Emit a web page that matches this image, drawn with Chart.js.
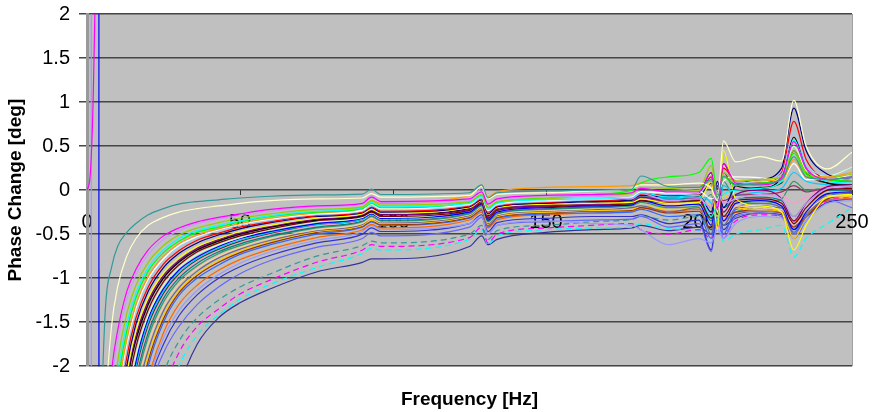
<!DOCTYPE html>
<html>
<head>
<meta charset="utf-8">
<title>Phase Change vs Frequency</title>
<script src="https://cdn.jsdelivr.net/npm/chart.js@4.4.1/dist/chart.umd.min.js"></script>
<style>
  html, body { margin: 0; padding: 0; background: #fff; }
  #chart { display: block; }
</style>
</head>
<body>
<canvas id="chart" width="875" height="412"></canvas>
<script>
// frequencies [Hz] shared by all main series
const freq = [4, 6, 8, 10, 13, 16, 20, 25, 30, 36, 43, 50, 60, 75, 90, 93, 96, 125, 129, 131, 134, 150, 165, 178, 181, 190, 200, 204, 206, 208, 212, 220, 227, 231, 235, 242, 250];

// phase change [deg], one array per measurement
const teal = [-3.2, -1.35, -0.88, -0.64, -0.48, -0.38, -0.28, -0.21, -0.16, -0.13, -0.11, -0.09, -0.07, -0.055, -0.045, 0.01, -0.05, -0.03, 0.06, -0.09, -0.03, -0.01, 0.0, 0.01, 0.16, 0.04, 0.03, 0.12, -0.08, 0.16, 0.06, 0.07, 0.12, 0.38, 0.15, 0.12, 0.15];
const cream = [-4.5, -2.5, -1.55, -1.1, -0.75, -0.55, -0.4, -0.31, -0.25, -0.21, -0.18, -0.15, -0.12, -0.1, -0.09, -0.04, -0.08, -0.06, 0.04, -0.1, -0.05, -0.03, -0.01, 0.02, 0.06, 0.06, 0.08, 0.02, -0.12, 0.56, 0.32, 0.38, 0.33, 1.02, 0.5, 0.24, 0.43];
const magenta = [-6, -3.2, -2.08, -1.6, -1.15, -0.9, -0.68, -0.52, -0.43, -0.36, -0.31, -0.27, -0.22, -0.18, -0.15, -0.08, -0.13, -0.1, -0.02, -0.16, -0.1, -0.06, -0.05, -0.03, 0.02, -0.02, -0.02, 0.2, -0.22, 0.3, 0.08, 0.06, 0.14, 0.55, 0.25, 0.12, 0.15];
const lavender = [-6.5, -3.5, -2.25, -1.72, -1.24, -0.96, -0.73, -0.56, -0.46, -0.38, -0.33, -0.29, -0.24, -0.19, -0.16, -0.06, -0.14, -0.12, 0.02, -0.15, -0.11, -0.08, -0.07, -0.1, -0.04, -0.12, -0.1, -0.2, 0.0, -0.15, -0.1, -0.05, -0.1, -0.3, -0.15, 0.02, 0.05];
const yellowGreen = [-7.5, -4, -2.6, -1.95, -1.4, -1.08, -0.82, -0.63, -0.51, -0.43, -0.37, -0.32, -0.27, -0.22, -0.19, -0.12, -0.17, -0.13, -0.05, -0.2, -0.13, -0.1, -0.06, -0.04, 0.03, 0.02, 0.0, 0.28, -0.1, 0.2, 0.1, 0.12, 0.15, 0.45, 0.2, 0.14, 0.18];
const cyan = [-8.2, -4.4, -2.85, -2.1, -1.52, -1.17, -0.88, -0.68, -0.55, -0.46, -0.4, -0.35, -0.29, -0.24, -0.2, -0.14, -0.19, -0.15, -0.07, -0.22, -0.15, -0.11, -0.1, -0.09, -0.03, -0.08, -0.06, -0.3, -0.15, -0.05, 0.0, 0.02, 0.1, 0.57, 0.25, 0.1, 0.08];
const green = [-9, -4.7, -3.0, -2.22, -1.6, -1.22, -0.92, -0.71, -0.58, -0.48, -0.42, -0.36, -0.3, -0.25, -0.21, -0.15, -0.2, -0.14, -0.06, -0.2, -0.14, -0.09, -0.05, 0.0, 0.08, 0.15, 0.2, 0.36, -0.05, 0.15, 0.05, 0.08, 0.12, 0.42, 0.18, 0.12, 0.1];
const orange = [-9.5, -5, -3.2, -2.35, -1.7, -1.3, -0.98, -0.75, -0.61, -0.51, -0.44, -0.38, -0.32, -0.26, -0.2, -0.12, -0.15, -0.06, 0.04, -0.08, -0.02, 0.03, 0.04, 0.05, 0.08, 0.06, 0.05, 0.1, -0.05, 0.15, 0.1, 0.12, 0.1, 0.35, 0.15, 0.15, 0.2];
const white = [-10, -5.2, -3.3, -2.42, -1.75, -1.34, -1.01, -0.78, -0.63, -0.53, -0.45, -0.39, -0.33, -0.27, -0.23, -0.16, -0.21, -0.16, -0.07, -0.23, -0.16, -0.12, -0.1, -0.08, -0.02, -0.03, -0.01, -0.1, -0.05, 0.1, 0.15, 0.14, 0.1, 0.3, 0.12, 0.12, 0.18];
const paleBlue = [-10.3, -5.4, -3.45, -2.5, -1.8, -1.38, -1.04, -0.8, -0.65, -0.54, -0.46, -0.4, -0.34, -0.28, -0.24, -0.18, -0.22, -0.17, -0.09, -0.24, -0.17, -0.13, -0.11, -0.08, -0.02, -0.05, -0.04, 0.12, -0.12, 0.2, 0.08, 0.1, 0.18, 0.66, 0.3, 0.16, 0.12];
const red = [-11, -5.8, -3.65, -2.65, -1.9, -1.45, -1.1, -0.84, -0.69, -0.57, -0.49, -0.42, -0.36, -0.29, -0.25, -0.19, -0.24, -0.18, -0.1, -0.25, -0.18, -0.14, -0.12, -0.1, -0.05, -0.06, -0.05, 0.15, -0.2, 0.25, 0.1, 0.08, 0.2, 0.78, 0.35, 0.12, 0.1];
const navy = [-12, -6.2, -3.9, -2.8, -2.0, -1.52, -1.15, -0.88, -0.72, -0.6, -0.51, -0.44, -0.37, -0.3, -0.26, -0.2, -0.25, -0.19, -0.11, -0.27, -0.19, -0.15, -0.13, -0.11, -0.06, -0.08, -0.06, -0.25, 0.1, -0.2, 0.05, 0.12, 0.25, 0.93, 0.45, 0.18, 0.12];
const yellow = [-13.5, -6.8, -4.2, -3.0, -2.1, -1.6, -1.22, -0.94, -0.77, -0.64, -0.55, -0.47, -0.4, -0.32, -0.27, -0.22, -0.26, -0.2, -0.12, -0.28, -0.2, -0.16, -0.15, -0.14, -0.1, -0.15, -0.14, 0.1, -0.45, 0.45, -0.1, -0.18, -0.25, -0.68, -0.4, -0.08, -0.05];
const purple = [-14, -7.2, -4.4, -3.1, -2.15, -1.65, -1.26, -0.97, -0.8, -0.66, -0.56, -0.49, -0.41, -0.33, -0.28, -0.23, -0.28, -0.22, -0.13, -0.3, -0.22, -0.18, -0.16, -0.14, -0.08, -0.12, -0.1, -0.3, 0.05, -0.25, -0.05, 0.0, -0.1, -0.35, -0.15, 0.04, 0.06];
const black = [-15, -7.5, -4.6, -3.2, -2.2, -1.7, -1.3, -1.0, -0.82, -0.68, -0.58, -0.5, -0.42, -0.34, -0.29, -0.24, -0.28, -0.21, -0.12, -0.29, -0.2, -0.15, -0.12, -0.09, -0.04, -0.06, -0.04, 0.2, -0.15, 0.3, 0.05, 0.02, 0.15, 0.6, 0.25, 0.08, 0.05];
const plum = [-14.6, -7.4, -4.5, -3.15, -2.18, -1.68, -1.28, -0.99, -0.81, -0.67, -0.57, -0.5, -0.42, -0.34, -0.29, -0.23, -0.28, -0.22, -0.12, -0.29, -0.21, -0.17, -0.15, -0.13, -0.1, -0.12, -0.1, -0.2, -0.08, -0.12, -0.06, -0.05, -0.02, 0.05, -0.02, 0.02, 0.0];
const maroon = [-16, -8, -4.9, -3.4, -2.33, -1.78, -1.36, -1.04, -0.85, -0.7, -0.6, -0.52, -0.44, -0.35, -0.3, -0.25, -0.3, -0.23, -0.15, -0.32, -0.23, -0.19, -0.17, -0.15, -0.12, -0.14, -0.12, -0.32, 0.02, -0.3, -0.12, -0.1, -0.15, -0.38, -0.2, 0.0, 0.02];
const lightGreen = [-17, -8.5, -5.2, -3.6, -2.45, -1.87, -1.42, -1.08, -0.88, -0.73, -0.62, -0.54, -0.45, -0.36, -0.31, -0.26, -0.31, -0.22, -0.13, -0.3, -0.21, -0.16, -0.13, -0.1, -0.05, -0.04, -0.02, 0.18, -0.25, 0.28, 0.12, 0.1, 0.12, 0.5, 0.22, 0.16, 0.26];
const blue = [-18, -9, -5.4, -3.8, -2.55, -1.95, -1.46, -1.12, -0.91, -0.76, -0.64, -0.55, -0.47, -0.38, -0.32, -0.27, -0.32, -0.25, -0.16, -0.34, -0.25, -0.2, -0.18, -0.17, -0.12, -0.18, -0.16, -0.4, 0.0, -0.35, -0.15, -0.12, -0.18, -0.45, -0.25, -0.04, -0.02];
const sky = [-19, -9.3, -5.6, -3.9, -2.6, -2.0, -1.5, -1.15, -0.94, -0.78, -0.66, -0.57, -0.48, -0.39, -0.33, -0.27, -0.32, -0.24, -0.15, -0.33, -0.23, -0.18, -0.15, -0.13, -0.08, -0.1, -0.08, -0.15, -0.35, 0.05, -0.05, -0.02, 0.02, 0.2, 0.1, 0.06, 0.02];
const olive = [-19.5, -9.5, -5.75, -4.0, -2.66, -2.04, -1.53, -1.17, -0.95, -0.79, -0.67, -0.58, -0.49, -0.39, -0.33, -0.27, -0.31, -0.24, -0.14, -0.31, -0.22, -0.17, -0.14, -0.12, -0.08, -0.1, -0.07, 0.08, -0.28, 0.2, 0.0, 0.03, 0.08, 0.45, 0.2, 0.08, 0.06];
const rose = [-20, -9.7, -5.9, -4.1, -2.72, -2.08, -1.56, -1.19, -0.97, -0.81, -0.68, -0.59, -0.5, -0.4, -0.34, -0.28, -0.33, -0.25, -0.16, -0.33, -0.25, -0.2, -0.17, -0.14, -0.1, -0.09, -0.07, 0.05, -0.2, 0.18, 0.02, 0.0, -0.05, -0.15, -0.08, 0.05, 0.08];
const tealDark = [-21.5, -10.2, -6.2, -4.3, -2.85, -2.15, -1.62, -1.23, -1.0, -0.83, -0.7, -0.61, -0.52, -0.42, -0.35, -0.29, -0.34, -0.26, -0.17, -0.35, -0.26, -0.21, -0.19, -0.16, -0.12, -0.15, -0.12, -0.35, 0.05, -0.2, -0.1, -0.08, -0.12, -0.3, -0.15, 0.0, 0.0];
const seaGreen = [-22.5, -10.6, -6.4, -4.45, -2.95, -2.22, -1.67, -1.27, -1.03, -0.86, -0.72, -0.63, -0.53, -0.43, -0.36, -0.3, -0.35, -0.27, -0.18, -0.36, -0.27, -0.22, -0.2, -0.18, -0.14, -0.2, -0.18, -0.05, -0.4, 0.1, -0.12, -0.15, -0.1, 0.1, 0.0, 0.02, 0.0];
const tan = [-24, -11, -6.6, -4.6, -3.1, -2.3, -1.75, -1.32, -1.07, -0.89, -0.75, -0.65, -0.55, -0.45, -0.38, -0.32, -0.36, -0.28, -0.19, -0.37, -0.28, -0.23, -0.21, -0.18, -0.15, -0.17, -0.15, -0.2, -0.05, -0.22, -0.18, -0.2, -0.22, -0.4, -0.25, -0.08, -0.06];
const slate = [-25.5, -11.7, -7.0, -4.85, -3.25, -2.4, -1.82, -1.37, -1.11, -0.92, -0.77, -0.67, -0.57, -0.46, -0.39, -0.32, -0.37, -0.29, -0.2, -0.38, -0.29, -0.24, -0.22, -0.2, -0.18, -0.25, -0.2, -0.5, -0.1, -0.4, -0.2, -0.15, -0.2, -0.5, -0.3, -0.05, -0.03];
const gold = [-27, -12.4, -7.3, -5.1, -3.4, -2.5, -1.88, -1.42, -1.14, -0.95, -0.8, -0.69, -0.58, -0.47, -0.4, -0.34, -0.38, -0.3, -0.21, -0.39, -0.3, -0.25, -0.23, -0.22, -0.18, -0.22, -0.2, -0.15, -0.3, -0.05, -0.2, -0.22, -0.25, -0.55, -0.3, -0.06, -0.08];
const brown = [-28.5, -13, -7.6, -5.3, -3.55, -2.6, -1.94, -1.46, -1.17, -0.97, -0.82, -0.71, -0.6, -0.48, -0.41, -0.35, -0.39, -0.31, -0.22, -0.4, -0.31, -0.26, -0.24, -0.23, -0.2, -0.26, -0.24, -0.45, -0.1, -0.3, -0.25, -0.22, -0.26, -0.42, -0.3, -0.1, -0.06];
const royal = [-30, -14, -8, -5.6, -3.7, -2.7, -2.0, -1.5, -1.2, -1.0, -0.85, -0.73, -0.62, -0.5, -0.42, -0.36, -0.4, -0.32, -0.23, -0.42, -0.32, -0.27, -0.26, -0.25, -0.22, -0.3, -0.28, -0.55, -0.15, -0.5, -0.22, -0.18, -0.22, -0.48, -0.28, -0.08, -0.04];
const orangeRed = [-33, -15, -8.7, -6.1, -4.0, -2.9, -2.15, -1.62, -1.3, -1.08, -0.91, -0.79, -0.67, -0.54, -0.45, -0.39, -0.43, -0.34, -0.25, -0.43, -0.34, -0.28, -0.26, -0.24, -0.2, -0.24, -0.22, -0.3, -0.2, -0.35, -0.25, -0.24, -0.25, -0.35, -0.28, -0.11, -0.1];
const lilac = [-35, -16, -9.1, -6.35, -4.15, -3.0, -2.2, -1.68, -1.37, -1.14, -0.96, -0.83, -0.7, -0.57, -0.47, -0.4, -0.45, -0.38, -0.3, -0.5, -0.4, -0.35, -0.38, -0.4, -0.45, -0.62, -0.55, -0.6, -0.45, -0.55, -0.38, -0.3, -0.32, -0.5, -0.35, -0.15, -0.12];
const indigo = [-36, -16.5, -9.4, -6.6, -4.3, -3.1, -2.25, -1.75, -1.43, -1.19, -1.0, -0.87, -0.74, -0.6, -0.5, -0.43, -0.47, -0.38, -0.28, -0.47, -0.37, -0.32, -0.3, -0.3, -0.28, -0.38, -0.34, -0.68, -0.2, -0.45, -0.28, -0.24, -0.26, -0.45, -0.3, -0.08, -0.06];
const periwinkle = [-40, -18, -10, -7, -4.5, -3.3, -2.35, -1.85, -1.55, -1.3, -1.1, -0.95, -0.8, -0.65, -0.55, -0.48, -0.52, -0.42, -0.31, -0.5, -0.4, -0.36, -0.34, -0.33, -0.3, -0.42, -0.38, -0.7, -0.3, -0.55, -0.3, -0.26, -0.3, -0.55, -0.35, -0.11, -0.2];
const tealDash = [-50, -23, -13, -8.5, -5.5, -4, -2.9, -2.1, -1.72, -1.45, -1.25, -1.1, -0.95, -0.75, -0.63, -0.58, -0.6, -0.5, -0.4, -0.56, -0.46, -0.4, -0.36, -0.33, -0.3, -0.34, -0.3, -0.45, -0.2, -0.35, -0.25, -0.2, -0.2, -0.35, -0.25, -0.06, -0.04];
const magentaDash = [-55, -25, -14, -9.5, -6, -4.4, -3.2, -2.3, -1.85, -1.55, -1.35, -1.18, -1.02, -0.82, -0.68, -0.62, -0.64, -0.54, -0.42, -0.6, -0.5, -0.43, -0.4, -0.38, -0.45, -0.5, -0.45, -0.55, -0.4, -0.5, -0.35, -0.28, -0.3, -0.45, -0.3, -0.12, -0.08];
const cyanDash = [-60, -27, -15, -10, -6.5, -4.8, -3.5, -2.5, -2.0, -1.65, -1.42, -1.24, -1.07, -0.88, -0.72, -0.66, -0.68, -0.56, -0.45, -0.62, -0.52, -0.45, -0.43, -0.42, -0.38, -0.44, -0.46, -0.6, -0.3, -0.58, -0.5, -0.45, -0.4, -0.76, -0.55, -0.38, -0.2];
const navyLow = [-70, -32, -18, -12, -7.5, -5.5, -4, -2.9, -2.25, -1.75, -1.45, -1.28, -1.12, -0.93, -0.82, -0.78, -0.78, -0.64, -0.52, -0.62, -0.56, -0.48, -0.45, -0.43, -0.4, -0.46, -0.42, -0.5, -0.3, -0.4, -0.32, -0.26, -0.28, -0.4, -0.3, -0.14, -0.1];

// the few traces that shoot off the scale right at the start
const riseFreq = [0, 1, 2, 3];
const riseValues = [0, 0.15, 1.0, 2.8];
const jumpFreqA = [1.35, 1.45];
const jumpValuesA = [40, -40];
const jumpFreqB = [3.85, 3.95];
const jumpValuesB = [40, -40];

const yTicks = [-2, -1.5, -1, -0.5, 0, 0.5, 1, 1.5, 2];
const xTicks = [0, 50, 100, 150, 200, 250];

const mainSeries = [teal, cream, magenta, lavender, yellowGreen, cyan, green, orange, white, paleBlue, red, navy, yellow, purple, black, plum, maroon, lightGreen, blue, sky, olive, rose, tealDark, seaGreen, tan, slate, gold, brown, royal, orangeRed, lilac, indigo, periwinkle, tealDash, magentaDash, cyanDash, navyLow];
const seriesColors = ["#339999", "#FFFFCC", "#FF00FF", "#CC99FF", "#99CC00", "#00FFFF", "#00FF00", "#FF9900", "#FFFFFF", "#99CCFF", "#FF0000", "#000080", "#FFFF00", "#800080", "#000000", "#993366", "#800000", "#CCFFCC", "#0000FF", "#00CCFF", "#333300", "#FF99CC", "#008080", "#339966", "#FFCC99", "#666699", "#FFCC00", "#993300", "#3366FF", "#FF6600", "#9999FF", "#3333CC", "#6666FF", "#339999", "#FF00FF", "#00FFFF", "#333399"];
const dashedSeries = [tealDash, magentaDash, cyanDash];

const FONT = "'Liberation Sans', Arial, sans-serif";

// build datasets from the arrays
const lineDataset = (xs, ys, color, dashed) => ({
  data: ys.map((v, k) => ({ x: xs[k], y: v })),
  borderColor: color,
  borderWidth: 1.2,
  borderDash: dashed ? [6, 4] : [],
  pointRadius: 0,
  cubicInterpolationMode: "monotone",
  fill: false
});

const datasets = mainSeries.map((values, i) =>
  lineDataset(freq, values, seriesColors[i], dashedSeries.includes(values))
);
datasets.push(lineDataset(riseFreq, riseValues, "#FF00FF", false));
datasets.push(lineDataset(jumpFreqA, jumpValuesA, "#9999FF", false));
datasets.push(lineDataset(jumpFreqB, jumpValuesB, "#0000FF", false));

// gray plot area like the spreadsheet default
const plotBackground = {
  id: "plotBackground",
  beforeDraw(chart) {
    const { ctx, chartArea: a } = chart;
    ctx.save();
    ctx.fillStyle = "#FFFFFF";
    ctx.fillRect(0, 0, chart.width, chart.height);
    ctx.fillStyle = "#C0C0C0";
    ctx.fillRect(a.left, a.top, a.right - a.left, a.bottom - a.top);
    ctx.strokeStyle = "#A0A0A0";
    ctx.lineWidth = 1;
    ctx.beginPath();
    ctx.moveTo(a.right + 0.5, a.top);
    ctx.lineTo(a.right + 0.5, a.bottom);
    ctx.stroke();
    ctx.restore();
  }
};

new Chart(document.getElementById("chart"), {
  type: "line",
  data: { datasets: datasets },
  plugins: [plotBackground],
  options: {
    responsive: false,
    animation: false,
    devicePixelRatio: 1,
    events: [],
    layout: { padding: { left: 0, right: 23, top: 14, bottom: 0 } },
    plugins: {
      legend: { display: false },
      tooltip: { enabled: false },
      title: {
        display: true,
        text: "Frequency [Hz]",
        position: "bottom",
        fullSize: false,
        color: "#000",
        font: { family: FONT, size: 19, weight: "bold" },
        padding: { top: 22, bottom: 1 }
      }
    },
    scales: {
      x: {
        type: "linear",
        min: 0,
        max: 250,
        position: { y: 0 },
        z: 1,
        afterBuildTicks: (scale) => { scale.ticks = xTicks.map(v => ({ value: v })); },
        afterFit: (scale) => { scale.paddingLeft = 0; scale.paddingRight = 0; },
        ticks: {
          color: "#000",
          font: { family: FONT, size: 20 },
          padding: 15,
          maxRotation: 0,
          callback: (v) => String(v)
        },
        grid: { drawOnChartArea: false, drawTicks: true, tickLength: 5, color: "#333", lineWidth: 1 },
        border: { display: false }
      },
      y: {
        min: -2,
        max: 2,
        afterBuildTicks: (scale) => { scale.ticks = yTicks.map(v => ({ value: v })); },
        afterFit: (scale) => { scale.width = 87; scale.paddingTop = 0; scale.paddingBottom = 0; },
        ticks: {
          color: "#000",
          font: { family: FONT, size: 20 },
          padding: 9,
          callback: (v) => String(v)
        },
        grid: { color: "#454545", lineWidth: 1.5, tickLength: 8 },
        border: { display: true, color: "#999999", width: 3 },
        title: {
          display: true,
          text: "Phase Change [deg]",
          color: "#000",
          font: { family: FONT, size: 19, weight: "bold" },
          padding: { top: 4, bottom: 4 }
        }
      }
    }
  }
});
</script>
</body>
</html>
